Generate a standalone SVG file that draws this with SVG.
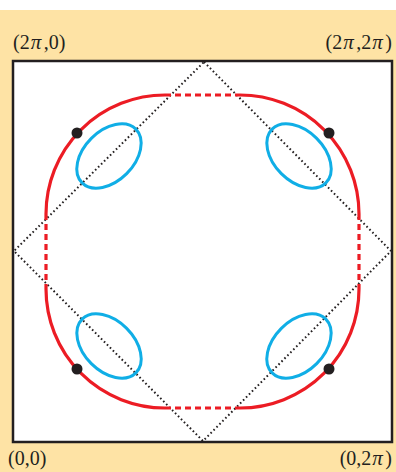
<svg xmlns="http://www.w3.org/2000/svg" width="396" height="472" viewBox="0 0 396 472">
<style>
.lbl{font-family:"Liberation Serif","Times New Roman",serif;font-size:20px;fill:#231f20}
.pi{font-style:italic;font-size:21px;letter-spacing:2.5px}
.red{fill:none;stroke:#ec1c24;stroke-width:3.2}
.dash{stroke-dasharray:6 4}
.blue{fill:none;stroke:#10aee6;stroke-width:3}
.dot{fill:#231f20}
.diag{fill:none;stroke:#231f20;stroke-width:2;stroke-dasharray:1.6 2.6}
</style>
<rect x="0" y="0" width="396" height="472" fill="#ffffff"/>
<rect x="0" y="10" width="396" height="462" fill="#fee3a5"/>
<g id="box"><rect x="13" y="61" width="379" height="381" fill="#ffffff" stroke="#231f20" stroke-width="2.5"/></g>
<g id="connectors">
<path class="diag" d="M204,62 L391,251 L203,441 L14,251 Z"/>
</g>
<g id="curve">
<path class="red" d="M46,214 A119,119 0 0 1 165,95"/>
<path class="red" d="M240,95 A119,119 0 0 1 359,214"/>
<path class="red" d="M359,289 A119,119 0 0 1 240,408"/>
<path class="red" d="M165,408 A119,119 0 0 1 46,289"/>
<path class="red dash" d="M165,95 H240"/>
<path class="red dash" d="M359,214 V289"/>
<path class="red dash" d="M165,408 H240"/>
<path class="red dash" d="M46,214 V289"/>
</g>
<g id="ellipse-tl"><ellipse class="blue" cx="109" cy="156" rx="38" ry="25" transform="rotate(-45 109 156)"/></g>
<g id="ellipse-tr"><ellipse class="blue" cx="299" cy="156" rx="38" ry="25" transform="rotate(45 299 156)"/></g>
<g id="ellipse-bl"><ellipse class="blue" cx="109" cy="346" rx="38" ry="25" transform="rotate(45 109 346)"/></g>
<g id="ellipse-br"><ellipse class="blue" cx="299" cy="346" rx="38" ry="25" transform="rotate(-45 299 346)"/></g>
<g id="dots">
<circle class="dot" cx="77" cy="133" r="5.5"/>
<circle class="dot" cx="329" cy="133" r="5.5"/>
<circle class="dot" cx="77" cy="369" r="5.5"/>
<circle class="dot" cx="329" cy="369" r="5.5"/>
</g>
<g id="labels">
<text class="lbl" x="13" y="49">(2<tspan class="pi" dx="1">π</tspan>,0)</text>
<text class="lbl" x="392" y="49" text-anchor="end">(2<tspan class="pi" dx="1">π</tspan>,2<tspan class="pi" dx="1">π</tspan>)</text>
<text class="lbl" x="8" y="465">(0,0)</text>
<text class="lbl" x="392" y="465" text-anchor="end">(0,2<tspan class="pi" dx="1">π</tspan>)</text>
</g>
</svg>
